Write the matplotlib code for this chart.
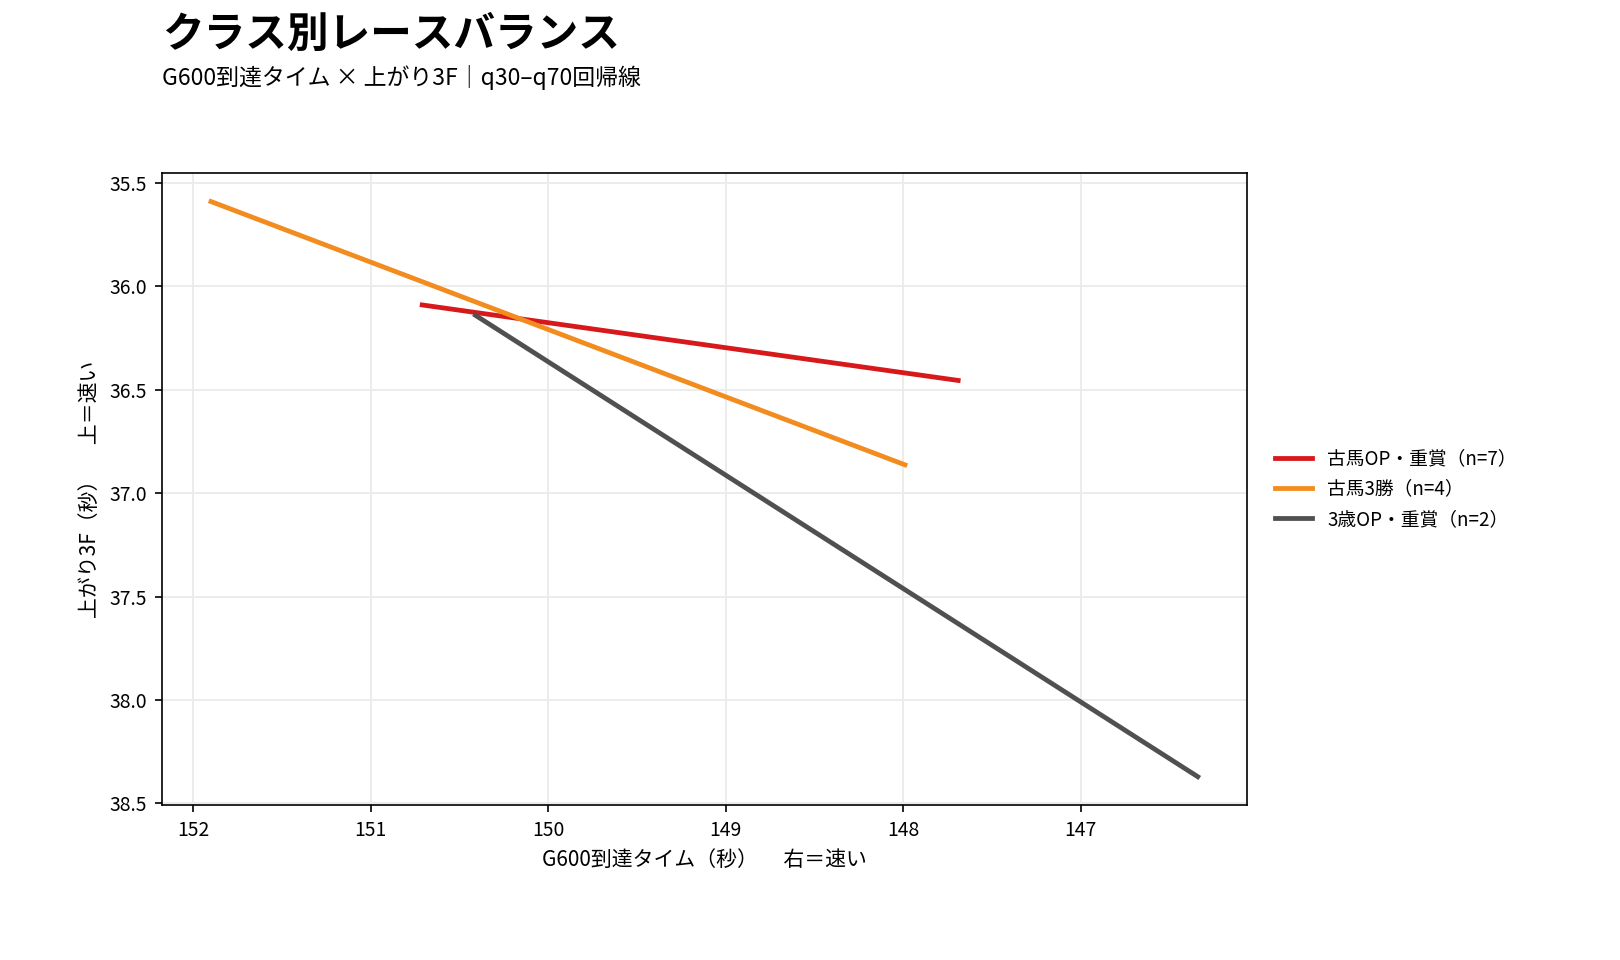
import matplotlib
matplotlib.use("Agg")
import matplotlib.pyplot as plt

plt.rcParams['font.family'] = ['Noto Sans CJK JP', 'DejaVu Sans']

classes = ["古馬OP・重賞（n=7）", "古馬3勝（n=4）", "3歳OP・重賞（n=2）"]
colors = ["#d7191c", "#f28c1e", "#505050"]
x_start = [150.71, 151.90, 150.41]
x_end = [147.69, 147.99, 146.34]
y_start = [36.09, 35.59, 36.14]
y_end = [36.455, 36.863, 38.371]

fig = plt.figure(figsize=(10.8, 6.4), dpi=150)
ax = fig.add_axes([0.0998, 0.161, 0.670, 0.659])

for name, c, x0, x1, y0, y1 in zip(classes, colors, x_start, x_end, y_start, y_end):
    ax.plot([x0, x1], [y0, y1], color=c, lw=2.3, label=name)

ax.invert_xaxis()
ax.invert_yaxis()
ax.set_xticks([152, 151, 150, 149, 148, 147])
ax.set_yticks([35.5, 36.0, 36.5, 37.0, 37.5, 38.0, 38.5])
ax.set_yticklabels(["35.5", "36.0", "36.5", "37.0", "37.5", "38.0", "38.5"])
ax.tick_params(labelsize=9.3)
ax.grid(True, color="#ebebeb", lw=0.9)
ax.set_axisbelow(True)
ax.set_xlabel("G600到達タイム（秒）　 右＝速い", fontsize=10)
ax.set_ylabel("上がり3F（秒）　 上＝速い", fontsize=10)

ax.legend(loc="center left", bbox_to_anchor=(1.01, 0.5), frameon=False, fontsize=9)

fig.text(0.1, 0.964, "クラス別レースバランス", fontsize=20, fontweight="bold", va="center", ha="left")
fig.text(0.100, 0.919, "G600到達タイム × 上がり3F｜q30–q70回帰線", fontsize=11, va="center", ha="left")

fig.savefig("out.png", dpi=150)
